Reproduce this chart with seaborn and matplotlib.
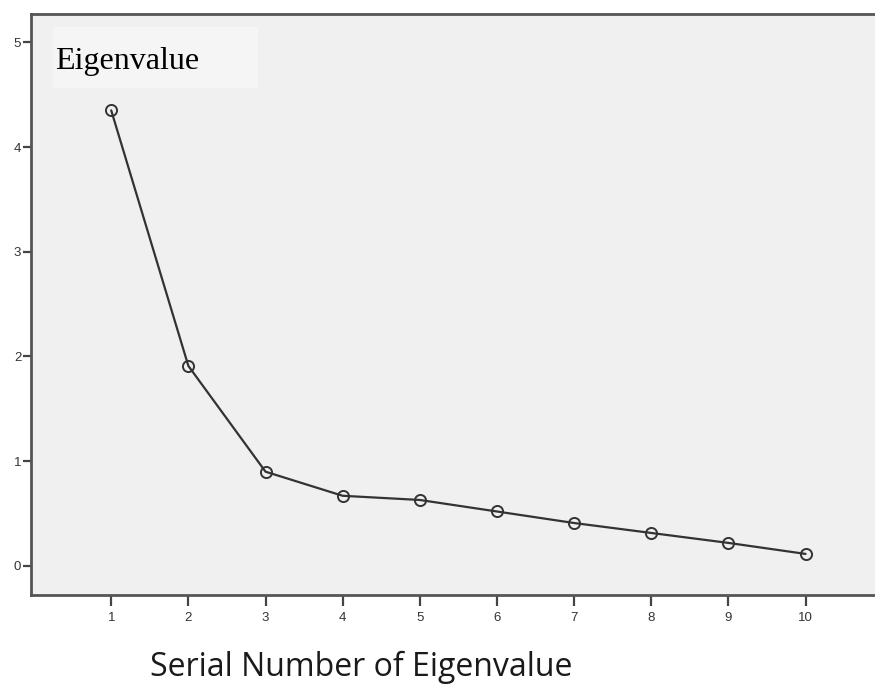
import numpy as np
import pandas as pd
import matplotlib
matplotlib.use("Agg")
import matplotlib.pyplot as plt
from matplotlib.patches import Rectangle
import seaborn as sns

# Scree plot data
serial_numbers = [1, 2, 3, 4, 5, 6, 7, 8, 9, 10]
eigenvalues = [4.35, 1.91, 0.90, 0.67, 0.63, 0.52, 0.41, 0.315, 0.22, 0.115]
y_ticks = [0, 1, 2, 3, 4, 5]

df = pd.DataFrame({"serial": serial_numbers, "eigenvalue": eigenvalues})

sns.set_style("white")
plt.rcParams['font.family'] = ['Liberation Sans', 'DejaVu Sans']

fig = plt.figure(figsize=(8.75, 6.86), dpi=100)
ax = fig.add_axes([0.0354, 0.1327, 0.9646, 0.8469])
ax.set_facecolor("#f0f0f0")

sns.lineplot(data=df, x="serial", y="eigenvalue", ax=ax, color="#333333",
             linewidth=1.6, marker="o", markersize=8, markerfacecolor="none",
             markeredgecolor="#333333", markeredgewidth=1.4)

ax.set_xlim(-0.04, 10.9)
ax.set_ylim(-0.277, 5.27)
ax.set_xticks(serial_numbers)
ax.set_yticks(y_ticks)
ax.tick_params(axis="x", direction="out", length=8, width=1.6, color="#444444",
               labelsize=9.5, labelcolor="#333333", pad=4, bottom=True)
ax.tick_params(axis="y", direction="out", length=6, width=1.6, color="#444444",
               labelsize=9.5, labelcolor="#333333", pad=1, left=True)

for side in ["left", "bottom", "top"]:
    ax.spines[side].set_color("#555555")
    ax.spines[side].set_linewidth(2)
ax.spines["right"].set_visible(False)

ax.set_xlabel("")
ax.set_ylabel("")

# Inset label box
ax.add_patch(Rectangle((0.026, 0.8726), 0.243, 0.105, transform=ax.transAxes,
                       facecolor="#f5f5f5", edgecolor="none", zorder=1))
ax.text(0.0284, 0.9053, "Eigenvalue", transform=ax.transAxes, fontsize=23,
        family=["Liberation Serif", "DejaVu Serif"], color="black",
        va="baseline", zorder=2)

fig.text(150 / 875, 1 - 667 / 686, "Serial Number of Eigenvalue", fontsize=23,
         family=["Open Sans", "DejaVu Sans"], color="#1a1a1a", va="center", ha="left")

fig.savefig("out.png", dpi=100, facecolor="white")
